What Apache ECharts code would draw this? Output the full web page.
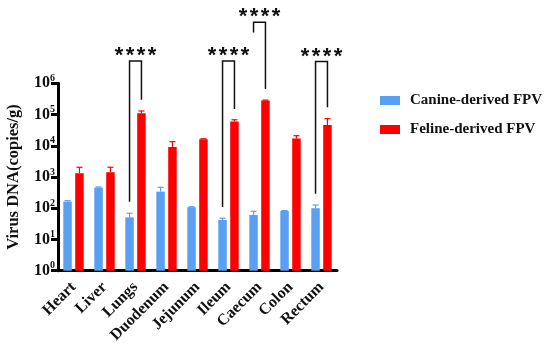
<!DOCTYPE html>
<html><head><meta charset="utf-8">
<script src="https://cdn.jsdelivr.net/npm/echarts@6/dist/echarts.min.js"></script>
<style>html,body{margin:0;padding:0;background:#fff}#c{width:550px;height:347px}</style>
</head><body><div id="c"></div>
<script>
const categories = ['Heart','Liver','Lungs','Duodenum','Jejunum','Ileum','Caecum','Colon','Rectum'];
const canineMean = [163, 457, 51, 340, 108, 42, 61, 82, 100];
const canineUpper = [175, 480, 69, 470, 112, 48, 80, 84, 127];
const felineMean = [1330, 1420, 110000, 9200, 16200, 60000, 280000, 17000, 46000];
const felineUpper = [2050, 2050, 130000, 13500, 16800, 68000, 290000, 21000, 74000];
const sigCats = ['Lungs','Ileum','Caecum','Rectum'];
const sigLeftFrom = [160, 110, 42000000, 290];
const sigRightFrom = [300000, 150000, 660000, 170000];
const sigTop = [5200000, 5200000, 90000000, 5000000];
const sigText = ['****','****','****','****'];

const BAR_W = 8.5, GAP = 0.4;
const OFF = (BAR_W + BAR_W * GAP) / 2;
const FONT = 'Liberation Serif';
const chart = echarts.init(document.getElementById('c'));

function errItem(off, color) {
  return function (params, api) {
    const x = api.coord([api.value(0), api.value(1)]);
    const top = api.coord([api.value(0), api.value(2)]);
    const cx = x[0] + off;
    return {type: 'group', children: [
      {type: 'line', shape: {x1: cx, y1: x[1], x2: cx, y2: top[1]}, style: {stroke: color, lineWidth: 1.2}},
      {type: 'line', shape: {x1: cx - 3, y1: top[1], x2: cx + 3, y2: top[1]}, style: {stroke: color, lineWidth: 1.2}}
    ]};
  };
}

chart.setOption({
  animation: false,
  grid: {left: 58, right: 213, top: 83.3, bottom: 76.3, containLabel: false, outerBoundsMode: 'none'},
  legend: {
    orient: 'vertical', left: 375, top: 88, itemWidth: 20, itemHeight: 9, itemGap: 14,
    icon: 'rect',
    data: ['Canine-derived FPV', 'Feline-derived FPV'],
    textStyle: {fontFamily: FONT, fontWeight: 'bold', fontSize: 15, color: '#111', padding: [0, 0, 0, 5]}
  },
  xAxis: {
    type: 'category', data: categories,
    axisLine: {lineStyle: {color: '#000', width: 3}},
    axisTick: {length: 7, lineStyle: {width: 3, color: '#000'}},
    axisLabel: {rotate: 45, interval: 0, margin: 14, fontFamily: FONT, fontWeight: 'bold', fontSize: 16, color: '#111'}
  },
  yAxis: {
    type: 'log', logBase: 10, min: 1, max: 1000000, splitNumber: 6,
    name: 'Virus DNA(copies/g)', nameLocation: 'middle', nameGap: 36,
    nameTextStyle: {fontFamily: FONT, fontWeight: 'bold', fontSize: 16.5, color: '#111'},
    axisLine: {show: true, lineStyle: {color: '#000', width: 3}},
    axisTick: {show: true, length: 7, lineStyle: {width: 3, color: '#000'}},
    splitLine: {show: false},
    axisLabel: {
      margin: 3,
      formatter: function (v) {
        const e = Math.round(Math.log10(v));
        return '{b|10}{s|' + e + '}';
      },
      rich: {
        b: {fontFamily: FONT, fontWeight: 'bold', fontSize: 16, color: '#111'},
        s: {fontFamily: FONT, fontWeight: 'bold', fontSize: 10, color: '#111', padding: [0, 0, 10, 0]}
      }
    }
  },
  series: [
    {name: 'Canine-derived FPV', type: 'bar', data: canineMean, barWidth: BAR_W, barGap: (GAP * 100) + '%', itemStyle: {color: '#5aa0f2'}},
    {name: 'Feline-derived FPV', type: 'bar', data: felineMean, barWidth: BAR_W, itemStyle: {color: '#ff0000'}},
    {type: 'custom', z: 5, clip: false, data: categories.map((c, i) => [i, canineMean[i], canineUpper[i]]), renderItem: errItem(-OFF, '#5aa0f2'), encode: {x: 0, y: 1}},
    {type: 'custom', z: 5, clip: false, data: categories.map((c, i) => [i, felineMean[i], felineUpper[i]]), renderItem: errItem(OFF, '#ff0000'), encode: {x: 0, y: 1}},
    {
      type: 'custom', z: 6, clip: false,
      data: sigCats.map((c, i) => [categories.indexOf(c), sigLeftFrom[i], sigRightFrom[i], sigTop[i]]),
      encode: {x: 0, y: 3},
      renderItem: function (params, api) {
        const i = api.value(0);
        const l = api.coord([i, api.value(1)]);
        const r = api.coord([i, api.value(2)]);
        const t = api.coord([i, api.value(3)]);
        const xl = t[0] - OFF, xr = t[0] + OFF;
        const chars = sigText[params.dataIndex].split('');
        const pitch = 11;
        const children = [
          {type: 'polyline', shape: {points: [[xl, l[1]], [xl, t[1]], [xr, t[1]], [xr, r[1]]]}, style: {stroke: '#111', lineWidth: 1.5, fill: null}}
        ];
        chars.forEach((ch, k) => {
          children.push({type: 'text', style: {text: ch, x: t[0] + (k - (chars.length - 1) / 2) * pitch, y: t[1] - 5, align: 'center', verticalAlign: 'middle', fontFamily: 'Liberation Sans', fontWeight: 'bold', fontSize: 22, fill: '#111'}});
        });
        return {type: 'group', children: children};
      }
    }
  ]
});
</script></body></html>
